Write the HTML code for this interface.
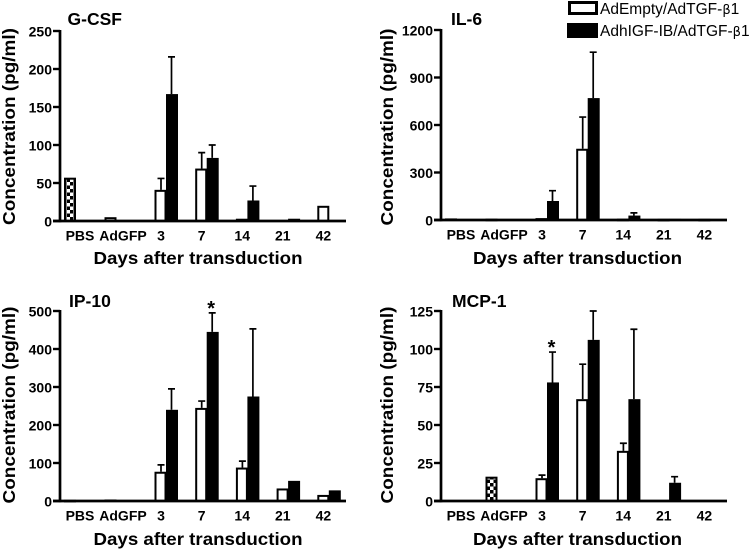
<!DOCTYPE html>
<html lang="en">
<head>
<meta charset="utf-8">
<title>Cytokine concentrations</title>
<style>
html,body{margin:0;padding:0;background:#fff;}
body{width:749px;height:550px;overflow:hidden;}
svg{display:block;filter:blur(0.35px);}
text{font-family:"Liberation Sans",sans-serif;fill:#000;}
</style>
</head>
<body>
<svg id="chart" width="749" height="550" viewBox="0 0 749 550" xmlns="http://www.w3.org/2000/svg">
<defs>
<pattern id="checker" width="7" height="7" patternUnits="userSpaceOnUse">
<rect width="7" height="7" fill="#fff"></rect>
<rect width="3.5" height="3.5" fill="#000"></rect>
<rect x="3.5" y="3.5" width="3.5" height="3.5" fill="#000"></rect>
</pattern>
</defs>
<g>
<rect x="569.5" y="2.5" width="27" height="11" fill="#fff" stroke="#000" stroke-width="3"></rect>
<text x="600" y="14" font-size="15.5">AdEmpty/AdTGF-<tspan font-family="'DejaVu Sans',sans-serif" font-size="13">β</tspan>1</text>
<rect x="567" y="23" width="31" height="15" fill="#000"></rect>
<text x="600" y="36" font-size="15.5">AdhIGF-IB/AdTGF-<tspan font-family="'DejaVu Sans',sans-serif" font-size="13">β</tspan>1</text>
</g>
</svg>
<script>
const categories = ['PBS', 'AdGFP', '3', '7', '14', '21', '42'];

const gcsfTicks = [0, 50, 100, 150, 200, 250];
const gcsfEmpty = [57, 5, 41, 69, 3, 0, 20];
const gcsfEmptyErr = [null, null, 56, 90, null, null, null];
const gcsfIgf = [0, 0, 167, 83, 27, 3, 1];
const gcsfIgfErr = [null, null, 216, 100, 46, null, null];

const il6Ticks = [0, 300, 600, 900, 1200];
const il6Empty = [10, 8, 12, 450, 8, 7, 7];
const il6EmptyErr = [null, null, null, 650, null, null, null];
const il6Igf = [0, 0, 120, 770, 28, 7, 6];
const il6IgfErr = [null, null, 185, 1060, 45, null, null];

const ip10Ticks = [0, 100, 200, 300, 400, 500];
const ip10Empty = [3, 4, 77, 245, 88, 33, 16];
const ip10EmptyErr = [null, null, 95, 263, 105, null, null];
const ip10Igf = [0, 0, 240, 445, 275, 53, 28];
const ip10IgfErr = [null, null, 295, 495, 453, null, null];

const mcp1Ticks = [0, 25, 50, 75, 100, 125];
const mcp1Empty = [0, 16, 15, 67, 33, 0, 0];
const mcp1EmptyErr = [null, null, 17, 90, 38, null, null];
const mcp1Igf = [0, 0, 78, 106, 67, 12, 0];
const mcp1IgfErr = [null, null, 98, 125, 113, 16, null];

const panels = [
  {name:'g-csf', title:'G-CSF', ox:0, top:31, base:221, titleX:67.5, titleY:25, xTitleX:198, xTitleY:264, yTitleX:15, yTitleY:126.5, ticks:gcsfTicks, empty:gcsfEmpty, emptyErr:gcsfEmptyErr, igf:gcsfIgf, igfErr:gcsfIgfErr, hatched:0, star:null},
  {name:'il-6', title:'IL-6', ox:381, top:30, base:220, titleX:70, titleY:25, xTitleX:577.5, xTitleY:264, yTitleX:393, yTitleY:127, ticks:il6Ticks, empty:il6Empty, emptyErr:il6EmptyErr, igf:il6Igf, igfErr:il6IgfErr, hatched:-1, star:null},
  {name:'ip-10', title:'IP-10', ox:0, top:311, base:501, titleX:69, titleY:307, xTitleX:198, xTitleY:545, yTitleX:15, yTitleY:405, ticks:ip10Ticks, empty:ip10Empty, emptyErr:ip10EmptyErr, igf:ip10Igf, igfErr:ip10IgfErr, hatched:-1, star:3},
  {name:'mcp-1', title:'MCP-1', ox:381, top:311, base:501, titleX:71, titleY:307, xTitleX:577.5, xTitleY:545, yTitleX:393, yTitleY:405, ticks:mcp1Ticks, empty:mcp1Empty, emptyErr:mcp1EmptyErr, igf:mcp1Igf, igfErr:mcp1IgfErr, hatched:1, star:2}
];

const NS = 'http://www.w3.org/2000/svg';
const svg = document.getElementById('chart');

function make(tag, attrs, parent) {
  const el = document.createElementNS(NS, tag);
  for (const k in attrs) el.setAttribute(k, attrs[k]);
  parent.appendChild(el);
  return el;
}
function xCenter(i) {
  return i < 2 ? 75.5 + 40.5 * i : 166 + 40.7 * (i - 2);
}
function xLabel(i) {
  return i < 2 ? 80 + 43 * i : 161 + 40.6 * (i - 2);
}
function yScale(p, v) {
  const max = p.ticks[p.ticks.length - 1];
  return p.base - (v / max) * (p.base - p.top);
}

panels.forEach(function (p) {
  const g = make('g', {}, svg);
  
  

  const barW = 11;
  function errorBar(cx, value, err) {
    if (err === null) return;
    const line = make('path', {
      d: 'M' + cx + ' ' + yScale(p, value) + 'V' + yScale(p, err) + 'M' + (cx - 3.5) + ' ' + yScale(p, err) + 'H' + (cx + 3.5),
      stroke: '#000', 'stroke-width': 1.7, fill: 'none'
    }, g);
    
    
  }

  categories.forEach(function (c, i) {
    const cx = xCenter(i) + p.ox;
    const yE = yScale(p, p.empty[i]);
    const yI = yScale(p, p.igf[i]);
    errorBar(cx - 5, p.empty[i], p.emptyErr[i]);
    errorBar(cx + 5.5, p.igf[i], p.igfErr[i]);
    if (p.empty[i] > 0) {
      const be = make('rect', {
        x: cx - barW + 0.5, y: yE + 1,
        width: barW - 1, height: Math.max(p.base - yE - 1, 0.5),
        fill: i === p.hatched ? 'url(#checker)' : '#fff', stroke: '#000', 'stroke-width': 2
      }, g);
      
      
    }
    if (p.igf[i] > 0) {
      const bi = make('rect', {
        x: cx, y: yI,
        width: barW + 1, height: p.base - yI,
        fill: '#000'
      }, g);
      
      
    }
    const lab = make('text', {
      x: xLabel(i) + p.ox, y: p.base + 19.5,
      'font-size': 14, 'font-weight': 'bold', 'text-anchor': 'middle'
    }, g);
    
    
    lab.textContent = c;
  });

  const yAxis = make('line', {x1: 60 + p.ox, x2: 60 + p.ox, y1: p.top - 1, y2: p.base + 1.3, stroke: '#000', 'stroke-width': 2.7}, g);
  
  
  const xAxis = make('line', {x1: 53 + p.ox, x2: 346 + p.ox, y1: p.base, y2: p.base, stroke: '#000', 'stroke-width': 2.7}, g);
  
  

  p.ticks.forEach(function (t) {
    const y = yScale(p, t);
    const tk = make('line', {x1: 53 + p.ox, x2: 60 + p.ox, y1: y, y2: y, stroke: '#000', 'stroke-width': 2.4}, g);
    
    
    const tl = make('text', {x: 52 + p.ox, y: y + 5.5, 'font-size': 14, 'font-weight': 'bold', 'text-anchor': 'end'}, g);
    
    
    tl.textContent = t;
  });

  const title = make('text', {x: p.titleX + p.ox, y: p.titleY, 'font-size': 17.5, 'font-weight': 'bold'}, g);
  
  
  title.textContent = p.title;

  const xt = make('text', {x: p.xTitleX, y: p.xTitleY, 'font-size': 17.5, 'font-weight': 'bold', 'text-anchor': 'middle', textLength: 209, lengthAdjust: 'spacingAndGlyphs'}, g);
  
  
  xt.textContent = 'Days after transduction';

  const yt = make('text', {x: 0, y: 0, 'font-size': 17.5, 'font-weight': 'bold', 'text-anchor': 'middle', textLength: 197, lengthAdjust: 'spacingAndGlyphs', transform: 'translate(' + p.yTitleX + ' ' + p.yTitleY + ') rotate(-90)'}, g);
  
  
  yt.textContent = 'Concentration (pg/ml)';

  if (p.star !== null) {
    const st = make('text', {x: xCenter(p.star) + 4.5 + p.ox, y: yScale(p, p.igfErr[p.star]) + 2, 'font-size': 20, 'font-weight': 'bold', 'text-anchor': 'middle'}, g);
    
    
    st.textContent = '*';
  }
});
</script>
</body>
</html>
